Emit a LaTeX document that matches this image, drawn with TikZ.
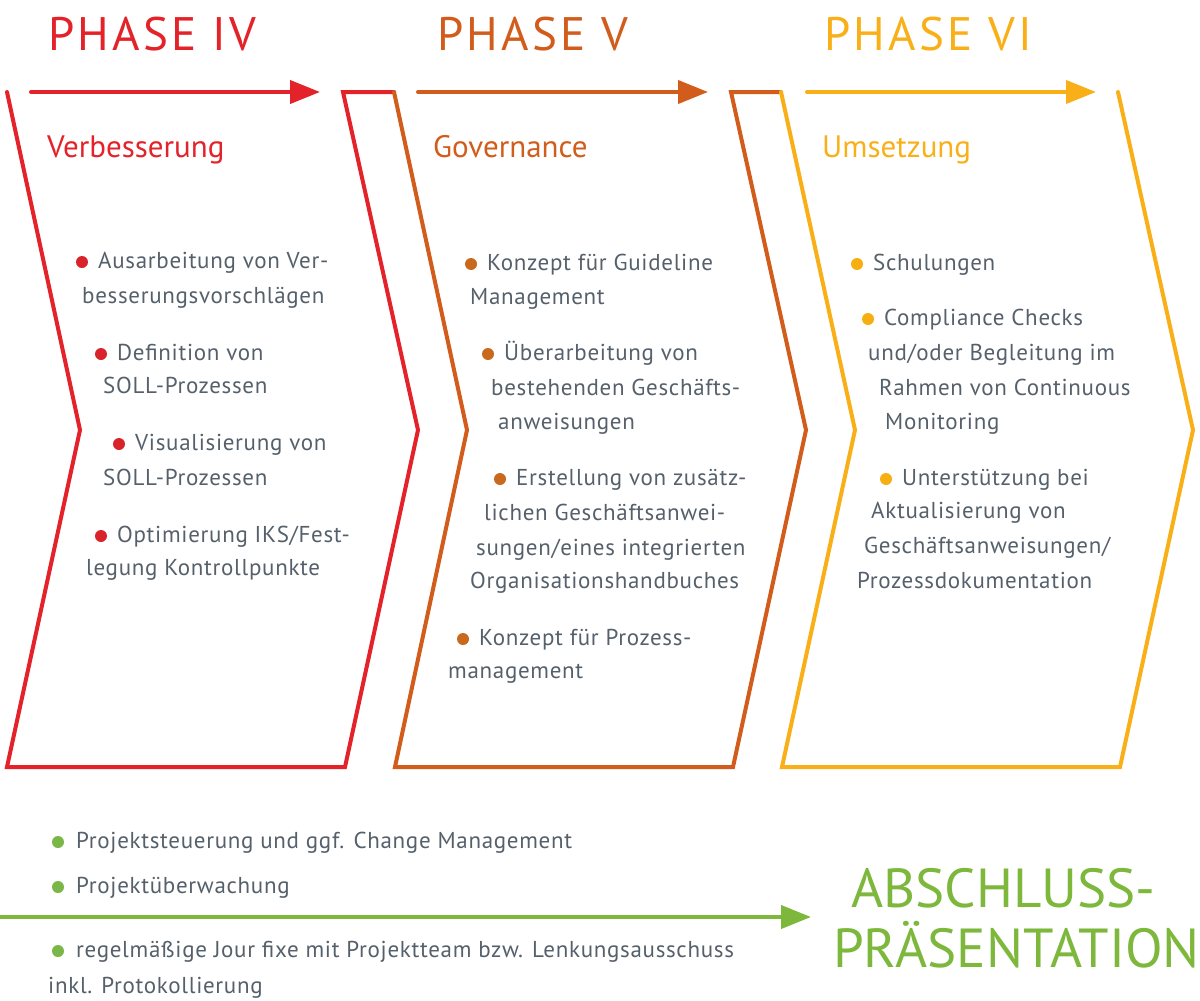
\documentclass[tikz,border=0pt]{standalone}
\usepackage{fontspec}
\setmainfont{PT Sans}
\usetikzlibrary{arrows.meta,positioning}
\definecolor{phasered}{HTML}{E42229}
\definecolor{phaseorange}{HTML}{D15C1B}
\definecolor{phaseyellow}{HTML}{F9B018}
\definecolor{phasegreen}{HTML}{7DB83D}
\definecolor{dotred}{HTML}{D9232A}
\definecolor{dotorange}{HTML}{C8691E}
\definecolor{dotyellow}{HTML}{F7AE12}
\definecolor{dotgreen}{HTML}{7AB648}
\definecolor{textgray}{HTML}{55606B}
\tikzset{
  chevron/.style={line width=4pt,line join=miter,line cap=round},
  phasearrow/.style={line width=4pt,line cap=round,-{Triangle[length=30pt,width=23pt]}},
  phasetitle/.style={font=\fontsize{47}{47}\selectfont\addfontfeature{LetterSpace=7},anchor=base west,inner sep=0pt},
  subtitle/.style={font=\fontsize{31}{31}\selectfont,anchor=base west,inner sep=0pt},
  itemtext/.style={text=textgray,font=\fontsize{23}{23}\selectfont\addfontfeature{LetterSpace=3},anchor=base west,inner sep=0pt},
  finale/.style={phasegreen,font=\fontsize{55}{55}\selectfont,anchor=base west,inner sep=0pt},
  dot/.style={circle,inner sep=0pt,minimum size=12pt}
}

\begin{document}
\begin{tikzpicture}[x=1pt,y=-1pt]
  \useasboundingbox (0,0) rectangle (1200,1001);
  % chevrons
  \draw[chevron,phasered] (7,92) -- (80,430) -- (7,767) -- (345,767) -- (418,430) -- (343,92) -- (394,92);
  \draw[chevron,phaseorange] (394,92) -- (467,430) -- (395,767) -- (733,767) -- (806,430) -- (731,92) -- (781,92);
  \draw[chevron,phaseyellow] (781,92) -- (855,430) -- (782,767) -- (1120,767) -- (1193,430) -- (1118,92);
  % phase arrows
  \coordinate (r0) at (31,92);  \coordinate (r1) at (320,92);
  \coordinate (o0) at (418,92); \coordinate (o1) at (708,92);
  \coordinate (y0) at (807,92); \coordinate (y1) at (1096,92);
  \draw[phasearrow,phasered] (r0) -- (r1);
  \draw[phasearrow,phaseorange] (o0) -- (o1);
  \draw[phasearrow,phaseyellow] (y0) -- (y1);
  % titles
  \node[phasetitle,phasered] (t4) at (48,50) {PHASE IV};
  \node[phasetitle,phaseorange] (t5) at (437,50) {PHASE V};
  \node[phasetitle,phaseyellow] (t6) at (824,50) {PHASE VI};
  \node[subtitle,phasered] (s4) at (47,157) {Verbesserung};
  \node[subtitle,phaseorange] (s5) at (433,157) {Governance};
  \node[subtitle,phaseyellow] (s6) at (822,157) {Umsetzung};
  % phase IV items
  \foreach \n/\x/\y/\t in {a1/98/268/{Ausarbeitung von Ver-}, a2/82/303/{besserungsvorschlägen},
      b1/117/360/{Definition von}, b2/103/393/{SOLL-Prozessen},
      c1/135/450/{Visualisierung von}, c2/103/485/{SOLL-Prozessen},
      d1/117/542/{Optimierung IKS/Fest-}, d2/86/575/{legung Kontrollpunkte}}
    \node[itemtext] (\n) at (\x,\y) {\t};
  \foreach \n in {a1,b1,c1,d1}
    \node[dot,fill=dotred] at ([xshift=-16pt,yshift=6pt]\n.base west) {};
  % phase V items
  \foreach \n/\x/\y/\t in {e1/487/270/{Konzept für Guideline}, e2/470/304/{Management},
      f1/504/360/{Überarbeitung von}, f2/491/395/{bestehenden Geschäfts-}, f3/498/429/{anweisungen},
      g1/516/485/{Erstellung von zusätz-}, g2/484/520/{lichen Geschäftsanwei-},
      g3/476/555/{sungen/eines integrierten}, g4/470/588/{Organisationshandbuches},
      h1/479/645/{Konzept für Prozess-}, h2/448/678/{management}}
    \node[itemtext] (\n) at (\x,\y) {\t};
  \foreach \n in {e1,f1,g1,h1}
    \node[dot,fill=dotorange] at ([xshift=-16pt,yshift=6pt]\n.base west) {};
  % phase VI items
  \foreach \n/\x/\y/\t in {k1/873/270/{Schulungen},
      l1/884/325/{Compliance Checks}, l2/868/360/{und/oder Begleitung im},
      l3/879/395/{Rahmen von Continuous}, l4/885/429/{Monitoring},
      m1/902/485/{Unterstützung bei}, m2/871/518/{Aktualisierung von},
      m3/864/553/{Geschäftsanweisungen/}, m4/857/588/{Prozessdokumentation}}
    \node[itemtext] (\n) at (\x,\y) {\t};
  \foreach \n in {k1,l1,m1}
    \node[dot,fill=dotyellow] at ([xshift=-16pt,yshift=6pt]\n.base west) {};
  % project management
  \foreach \n/\x/\y/\t in {p1/76/848/{Projektsteuerung und ggf. Change Management},
      p2/76/893/{Projektüberwachung},
      p3/76/957/{regelmäßige Jour fixe mit Projektteam bzw. Lenkungsausschuss},
      p4/48/993/{inkl. Protokollierung}}
    \node[itemtext] (\n) at (\x,\y) {\t};
  \foreach \n in {p1,p2,p3}
    \node[dot,fill=dotgreen] at ([xshift=-18pt,yshift=6pt]\n.base west) {};
  \coordinate (g0) at (0,917); \coordinate (g1) at (811,917);
  \draw[phasearrow,phasegreen,line cap=butt] (g0) -- (g1);
  \node[finale] (fin1) at (851,907) {ABSCHLUSS-};
  \node[finale] (fin2) at (833,967) {PRÄSENTATION};
\end{tikzpicture}
\end{document}
